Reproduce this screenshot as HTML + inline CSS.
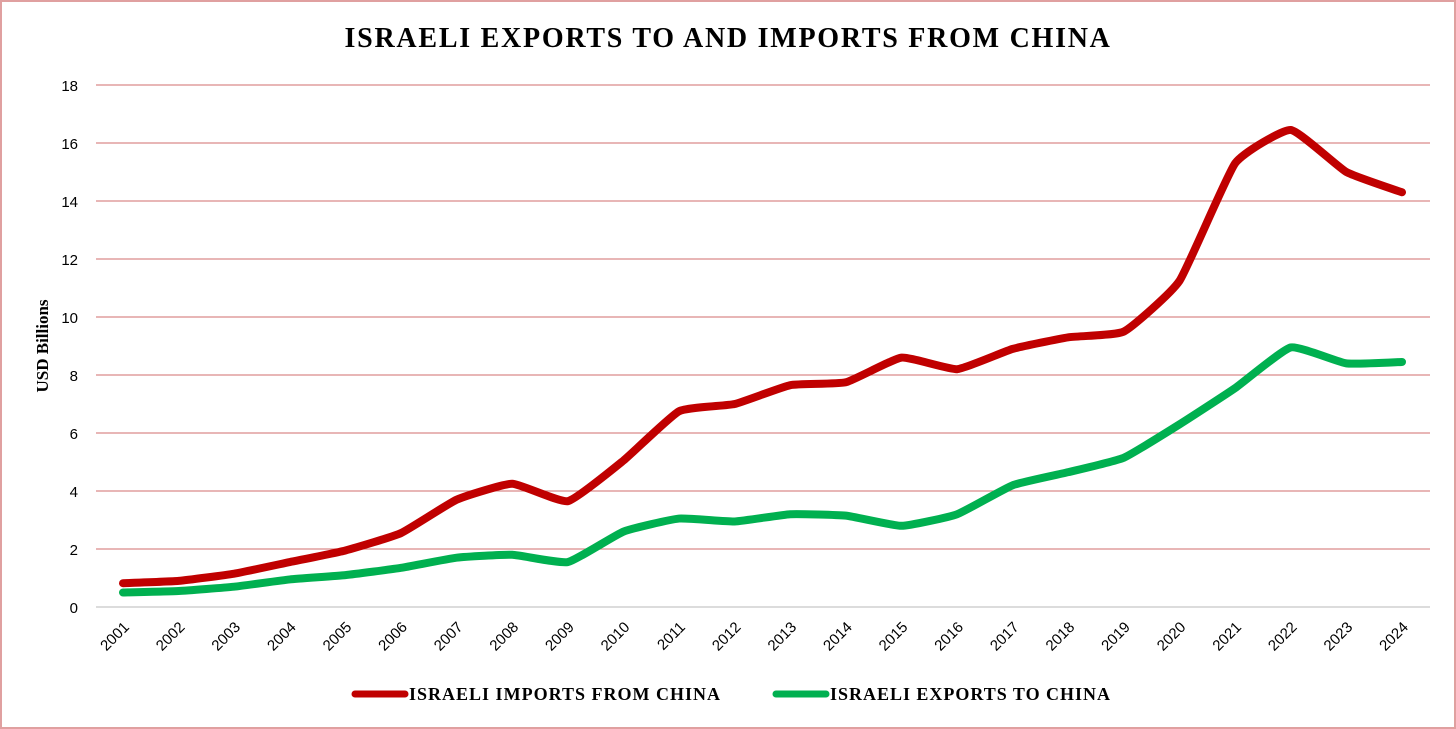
<!DOCTYPE html>
<html><head><meta charset="utf-8"><style>
html,body{margin:0;padding:0;background:#fff}
svg{display:block}
</style></head><body>
<svg width="1456" height="729" xmlns="http://www.w3.org/2000/svg">
<rect x="1" y="1" width="1454" height="727" fill="#fff" stroke="#e0a0a0" stroke-width="2"/>
<text x="728" y="47" text-anchor="middle" font-family="Liberation Serif, serif" font-weight="bold" font-size="28" letter-spacing="1.6" textLength="767" fill="#000">ISRAELI EXPORTS TO AND IMPORTS FROM CHINA</text>
<text transform="translate(48,346) rotate(-90)" text-anchor="middle" font-family="Liberation Serif, serif" font-weight="bold" font-size="17">USD Billions</text>
<g id="grid"></g><g id="ylabels"></g><g id="xlabels"></g><g id="series"></g>
<g>
<line x1="355" y1="694" x2="405" y2="694" stroke="#c00000" stroke-width="7" stroke-linecap="round"/>
<text x="409" y="700" font-family="Liberation Serif, serif" font-weight="bold" font-size="18" textLength="311">ISRAELI IMPORTS FROM CHINA</text>
<line x1="776" y1="694" x2="826" y2="694" stroke="#00b050" stroke-width="7" stroke-linecap="round"/>
<text x="830" y="700" font-family="Liberation Serif, serif" font-weight="bold" font-size="18" textLength="280">ISRAELI EXPORTS TO CHINA</text>
</g>
</svg>
<script>
const years=[2001,2002,2003,2004,2005,2006,2007,2008,2009,2010,2011,2012,2013,2014,2015,2016,2017,2018,2019,2020,2021,2022,2023,2024];
const imports=[0.82,0.9,1.15,1.55,1.95,2.55,3.7,4.25,3.65,5.05,6.75,7.0,7.65,7.75,8.6,8.2,8.9,9.3,9.5,11.25,15.3,16.45,15.0,14.3];
const exportsV=[0.5,0.55,0.7,0.95,1.1,1.35,1.7,1.8,1.55,2.6,3.05,2.95,3.2,3.15,2.8,3.2,4.2,4.65,5.15,6.3,7.55,8.95,8.4,8.45];
const yTicks=[0,2,4,6,8,10,12,14,16,18];
const NS='http://www.w3.org/2000/svg';
const yS=v=>607-v*(522/18);
const xS=i=>123+i*(1279/(years.length-1));
function mk(tag,attrs,parent){const e=document.createElementNS(NS,tag);for(const k in attrs)e.setAttribute(k,attrs[k]);parent.appendChild(e);return e;}
const grid=document.getElementById('grid'),yl=document.getElementById('ylabels'),xl=document.getElementById('xlabels'),ser=document.getElementById('series');
yTicks.forEach(t=>{
 const l=mk('line',{x1:96,x2:1430,y1:yS(t),y2:yS(t),stroke:t===0?'#c8c8c8':'#d98a8a','stroke-width':1.3},grid);
 
 
 const tx=mk('text',{x:78,y:yS(t)+6,'text-anchor':'end','font-family':'Liberation Sans, sans-serif','font-size':15},yl);
 tx.textContent=t;
 
 
});
years.forEach((y,i)=>{
 const x=xS(i)+7,yy=628;
 const tx=mk('text',{x:x,y:yy,'text-anchor':'end','font-family':'Liberation Sans, sans-serif','font-size':15,transform:`rotate(-45 ${x} ${yy})`},xl);
 tx.textContent=y;
 
 
});
function path(vals){
 const p=vals.map((v,i)=>[xS(i),yS(v)]);
 let d=`M${p[0][0]},${p[0][1]}`;
 for(let i=0;i<p.length-1;i++){
  const p0=p[Math.max(0,i-1)],p1=p[i],p2=p[i+1],p3=p[Math.min(p.length-1,i+2)],k=14;
  d+=` C${p1[0]+(p2[0]-p0[0])/k},${p1[1]+(p2[1]-p0[1])/k} ${p2[0]-(p3[0]-p1[0])/k},${p2[1]-(p3[1]-p1[1])/k} ${p2[0]},${p2[1]}`;
 }
 return d;
}
const li=mk('path',{d:path(imports),fill:'none',stroke:'#c00000','stroke-width':8,'stroke-linecap':'round','stroke-linejoin':'round'},ser);


const le=mk('path',{d:path(exportsV),fill:'none',stroke:'#00b050','stroke-width':8,'stroke-linecap':'round','stroke-linejoin':'round'},ser);


</script>
</body></html>
